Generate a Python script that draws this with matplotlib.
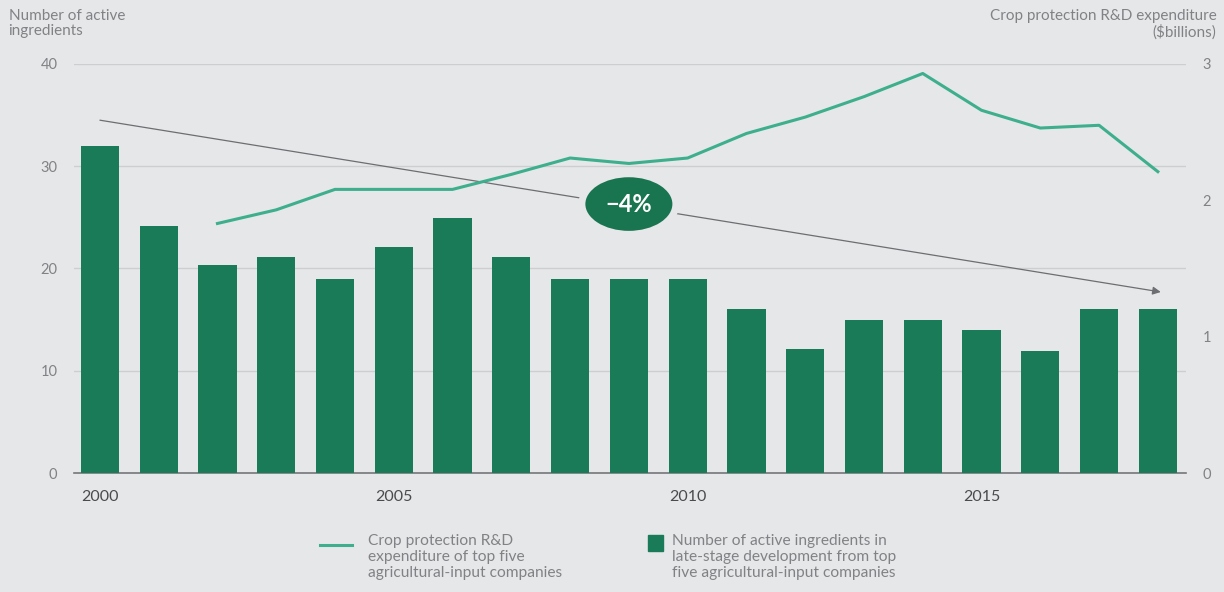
import matplotlib.pyplot as plt
from matplotlib.lines import Line2D
from matplotlib.patches import Rectangle

# data
years = list(range(2000, 2019))
ingredients = [32, 24.2, 20.3, 21.1, 19, 22.1, 24.9, 21.1, 19, 19, 19,
               16, 12.1, 15, 15, 14, 11.9, 16, 16]
rd_years = list(range(2002, 2019))
rd_spend = [1.83, 1.93, 2.08, 2.08, 2.08, 2.19, 2.31, 2.27, 2.31, 2.49,
            2.61, 2.76, 2.93, 2.66, 2.53, 2.55, 2.21]
left_ticks = [0, 10, 20, 30, 40]
right_ticks = [0, 1, 2, 3]
x_ticks = [2000, 2005, 2010, 2015]

bg = '#e6e7e9'
bar_color = '#1a7b58'
line_color = '#3daf8c'
grey_text = '#808285'

plt.rcParams['font.family'] = ['Lato', 'DejaVu Sans']

fig = plt.figure(figsize=(12.24, 5.92), dpi=100, facecolor=bg)
ax = fig.add_axes([0.0605, 0.201, 0.9085, 0.691])
ax.set_facecolor(bg)
ax2 = ax.twinx()

ax.bar(years, ingredients, width=0.65, color=bar_color, zorder=3)
ax.set_xlim(1999.56, 2018.48)
ax.set_ylim(0, 40)
ax.set_yticks(left_ticks)
ax.set_xticks(x_ticks)
ax.grid(axis='y', color='#cdced0', linewidth=1, zorder=0)
ax.set_axisbelow(True)
for s in ['top', 'right', 'left']:
    ax.spines[s].set_visible(False)
ax.spines['bottom'].set_color('#76777a')
ax.spines['bottom'].set_linewidth(1.2)
ax.tick_params(axis='y', length=0, pad=12, labelsize=10.5, labelcolor=grey_text)
ax.tick_params(axis='x', length=0, pad=12, labelsize=11.5, labelcolor='#4a4b4d')

ax2.plot(rd_years, rd_spend, color=line_color, linewidth=2.2, zorder=5)
ax2.set_ylim(0, 3)
ax2.set_yticks(right_ticks)
for s in ax2.spines.values():
    s.set_visible(False)
ax2.tick_params(axis='y', length=0, pad=12, labelsize=10.5, labelcolor=grey_text)

# trend arrow
ax.annotate('', xy=(2018.05, 17.7), xytext=(2000, 34.5),
            arrowprops=dict(arrowstyle='-|>', color='#6d6e71', lw=0.9,
                            mutation_scale=12, shrinkA=0, shrinkB=0), zorder=4)
ax.text(2009.0, 26.3, '\u22124%', ha='center', va='center', fontsize=17,
        fontweight='bold', color='white', zorder=6,
        bbox=dict(boxstyle='ellipse,pad=0.42', facecolor='#18754f',
                  edgecolor=bg, linewidth=5))

fig.text(0.007, 0.985, 'Number of active\ningredients', ha='left', va='top',
         fontsize=11, color=grey_text, linespacing=1.1)
fig.text(0.994, 0.985, 'Crop protection R&D expenditure\n($billions)', ha='right',
         va='top', fontsize=11, color=grey_text, linespacing=1.1)

# legend drawn by hand
fig.add_artist(Line2D([320 / 1224, 352 / 1224], [1 - 545 / 592, 1 - 545 / 592],
                      color=line_color, linewidth=2.2))
fig.text(368 / 1224, 1 - 534 / 592,
         'Crop protection R&D\nexpenditure of top five\nagricultural-input companies',
         ha='left', va='top', fontsize=11.2, color=grey_text, linespacing=1.2)
fig.add_artist(Rectangle((648 / 1224, 1 - 551 / 592), 15 / 1224, 16 / 592,
                         color=bar_color))
fig.text(672 / 1224, 1 - 534 / 592,
         'Number of active ingredients in\nlate-stage development from top\nfive agricultural-input companies',
         ha='left', va='top', fontsize=11.2, color=grey_text, linespacing=1.2)

fig.savefig('out.png', dpi=100, facecolor=bg)
